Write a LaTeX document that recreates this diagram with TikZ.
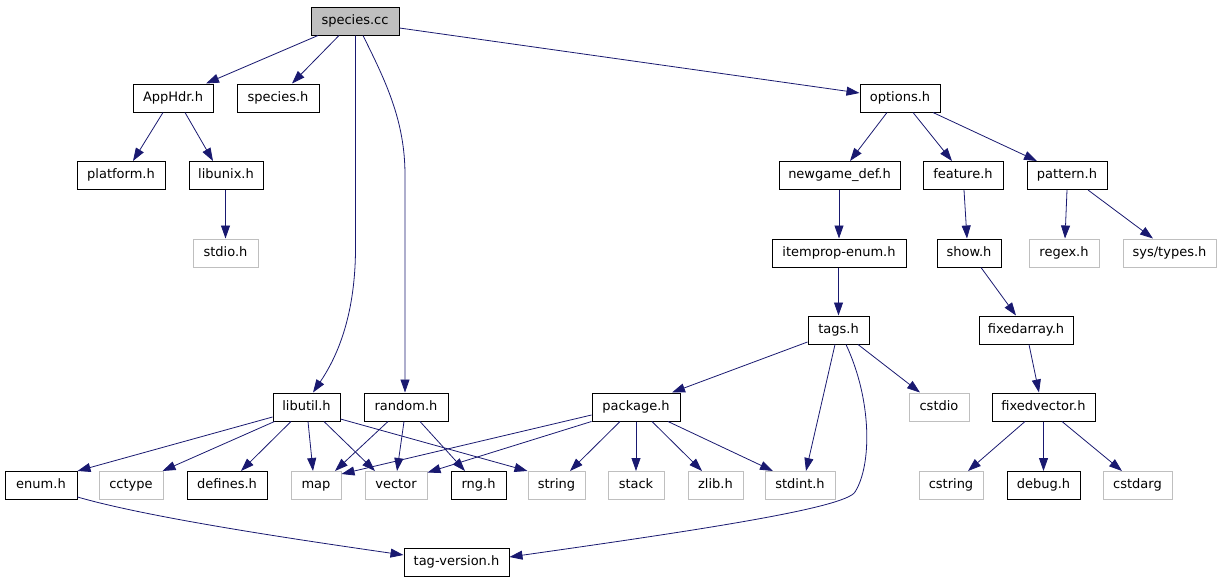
\documentclass[tikz,border=0pt]{standalone}
\usepackage{fontspec}
\setmainfont{DejaVu Sans}
\usetikzlibrary{arrows.meta}
\definecolor{edgeblue}{HTML}{191970}
\definecolor{boxgray}{HTML}{BFBFBF}
\begin{document}
\begin{tikzpicture}[x={(1pt,0pt)}, y={(0pt,-1pt)},
  hdr/.style={draw=black, line width=1pt, fill=white, minimum height=28pt, inner sep=0pt,
    font=\fontsize{13}{15}\selectfont, text height=9.5pt, text depth=2.8pt},
  sys/.style={hdr, draw=boxgray},
  dep/.style={draw=edgeblue, line width=0.8pt, -{Triangle[length=13pt,width=9pt]}}]
\useasboundingbox (0,0) rectangle (1221,581);
% row 0
\node[hdr, fill=boxgray, minimum width=88pt] (species) at (355,21) {species.cc};
% row 1
\node[hdr, minimum width=80pt] (apphdr) at (173,98) {AppHdr.h};
\node[hdr, minimum width=82pt] (speciesh) at (278,98) {species.h};
\node[hdr, minimum width=80pt] (options) at (900,98) {options.h};
% row 2
\node[hdr, minimum width=88pt] (platform) at (121,175.5) {platform.h};
\node[hdr, minimum width=74pt] (libunix) at (226,175.5) {libunix.h};
\node[hdr, minimum width=121pt] (newgame) at (839.5,175.5) {newgame\_def.h};
\node[hdr, minimum width=80pt] (feature) at (963,175.5) {feature.h};
\node[hdr, minimum width=80pt] (pattern) at (1067,175.5) {pattern.h};
% row 3
\node[sys, minimum width=65pt] (stdio) at (225.5,253) {stdio.h};
\node[hdr, minimum width=134pt] (itemprop) at (839,253) {itemprop-enum.h};
\node[hdr, minimum width=64pt] (show) at (969,253) {show.h};
\node[sys, minimum width=70pt] (regex) at (1064,253) {regex.h};
\node[sys, minimum width=93pt] (systypes) at (1169.5,253) {sys/types.h};
% row 4
\node[hdr, minimum width=61pt] (tags) at (838.5,330) {tags.h};
\node[hdr, minimum width=94pt] (fixedarray) at (1026,330) {fixedarray.h};
% row 5
\node[hdr, minimum width=67pt] (libutil) at (306.5,407) {libutil.h};
\node[hdr, minimum width=84pt] (random) at (406,407) {random.h};
\node[hdr, minimum width=88pt] (package) at (636,407) {package.h};
\node[sys, minimum width=60pt] (cstdio) at (939,407) {cstdio};
\node[hdr, minimum width=103pt] (fixedvector) at (1043.5,407) {fixedvector.h};
% row 6
\node[hdr, minimum width=72pt] (enum) at (41,485.5) {enum.h};
\node[sys, minimum width=64pt] (cctype) at (131,485.5) {cctype};
\node[hdr, minimum width=80pt] (defines) at (227,485.5) {defines.h};
\node[sys, minimum width=50pt] (map) at (316,485.5) {map};
\node[sys, minimum width=62pt] (vector) at (396,485.5) {vector};
\node[hdr, minimum width=55pt] (rng) at (478.5,485.5) {rng.h};
\node[sys, minimum width=57pt] (string) at (556.5,485.5) {string};
\node[sys, minimum width=56pt] (stack) at (636,485.5) {stack};
\node[sys, minimum width=55pt] (zlib) at (715.5,485.5) {zlib.h};
\node[sys, minimum width=70pt] (stdint) at (800,485.5) {stdint.h};
\node[sys, minimum width=64pt] (cstring) at (951,485.5) {cstring};
\node[hdr, minimum width=73pt] (debug) at (1043.5,485.5) {debug.h};
\node[sys, minimum width=69pt] (cstdarg) at (1137.5,485.5) {cstdarg};
% row 7
\node[hdr, minimum width=105pt] (tagver) at (456.5,562) {tag-version.h};

% edges
\draw[dep] ([xshift=-37pt]species.south) -- ([xshift=33pt]apphdr.north);
\draw[dep] ([xshift=-16pt]species.south) -- ([xshift=14pt]speciesh.north);
\draw[dep] ([xshift=0.5pt]species.south) -- (355.5,250) .. controls (355,320) and (335,360) .. ([xshift=6.5pt]libutil.north);
\draw[dep] ([xshift=8pt]species.south) .. controls (385,80) and (405,120) .. (405,175) -- ([xshift=-1pt]random.north);
\draw[dep] ([yshift=-7pt]species.east) -- ([yshift=5pt]options.west);
\draw[dep] ([xshift=-10pt]apphdr.south) -- ([xshift=12pt]platform.north);
\draw[dep] ([xshift=12pt]apphdr.south) -- ([xshift=-13pt]libunix.north);
\draw[dep] ([xshift=-0.5pt]libunix.south) -- (stdio.north);
\draw[dep] ([xshift=-13pt]options.south) -- ([xshift=10.5pt]newgame.north);
\draw[dep] ([xshift=13pt]options.south) -- ([xshift=-11pt]feature.north);
\draw[dep] ([xshift=33pt]options.south) -- ([xshift=-30pt]pattern.north);
\draw[dep] ([xshift=-0.5pt]newgame.south) -- (itemprop.north);
\draw[dep] ([xshift=-0.5pt]itemprop.south) -- (tags.north);
\draw[dep] ([xshift=1pt]feature.south) -- ([xshift=-2pt]show.north);
\draw[dep] ([xshift=12pt]show.south) -- ([xshift=-10pt]fixedarray.north);
\draw[dep] ([xshift=3pt]fixedarray.south) -- ([xshift=-4.5pt]fixedvector.north);
\draw[dep] (pattern.south) -- ([xshift=1pt]regex.north);
\draw[dep] ([xshift=21pt]pattern.south) -- ([xshift=-16.5pt]systypes.north);
\draw[dep] ([yshift=-12pt]tags.west) -- ([xshift=36pt]package.north);
\draw[dep] ([xshift=-3.5pt]tags.south) -- ([xshift=6pt]stdint.north);
\draw[dep] ([xshift=7.5pt]tags.south) .. controls (872,400) and (872,465) .. (855,492) .. controls (845,508) and (700,530) .. ([yshift=5pt]tagver.east);
\draw[dep] ([xshift=19.5pt]tags.south) -- ([xshift=-19pt]cstdio.north);
\draw[dep] ([yshift=-8pt]package.west) -- ([yshift=11.5pt]map.east);
\draw[dep] (package.south west) -- ([yshift=-1.5pt]vector.north east);
\draw[dep] ([xshift=-16pt]package.south) -- ([xshift=13.5pt]string.north);
\draw[dep] (package.south) -- (stack.north);
\draw[dep] ([xshift=16pt]package.south) -- ([xshift=-13.5pt]zlib.north);
\draw[dep] ([xshift=32pt]package.south) -- ([xshift=-27pt]stdint.north);
\draw[dep] ([yshift=-10pt]libutil.west) -- (enum.north east);
\draw[dep] ([xshift=2pt]libutil.south west) -- ([xshift=-1pt]cctype.north east);
\draw[dep] ([xshift=-15.5pt]libutil.south) -- ([xshift=14pt]defines.north);
\draw[dep] ([xshift=1.5pt]libutil.south) -- ([xshift=-3pt]map.north);
\draw[dep] ([xshift=17.5pt]libutil.south) -- ([xshift=-21pt]vector.north);
\draw[dep] ([yshift=-12pt]libutil.east) -- (string.north west);
\draw[dep] ([xshift=-18pt]random.south) -- ([xshift=19pt]map.north);
\draw[dep] ([xshift=-2pt]random.south) -- ([xshift=1pt]vector.north);
\draw[dep] ([xshift=14pt]random.south) -- ([xshift=-13.5pt]rng.north);
\draw[dep] ([yshift=-11.5pt]enum.east) .. controls (150,518) and (300,540) .. ([yshift=7pt]tagver.west);
\draw[dep] ([xshift=-18.5pt]fixedvector.south) -- ([xshift=17pt]cstring.north);
\draw[dep] (fixedvector.south) -- (debug.north);
\draw[dep] ([xshift=18.5pt]fixedvector.south) -- ([xshift=-15.5pt]cstdarg.north);
\end{tikzpicture}
\end{document}
